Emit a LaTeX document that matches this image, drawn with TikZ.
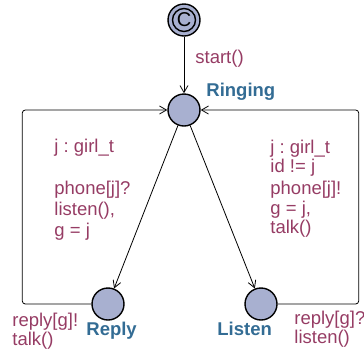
\documentclass[tikz,border=0pt]{standalone}
\usepackage{fontspec}
\setmainfont{Liberation Sans}
\usetikzlibrary{arrows.meta}
\frenchspacing

\definecolor{locfill}{RGB}{168,176,208}
\definecolor{labcol}{RGB}{150,60,100}
\definecolor{namecol}{RGB}{51,108,148}

\begin{document}
\begin{tikzpicture}[
        ->,
        >={Straight Barb[length=7pt,width=8pt]},
        line width=0.8pt,
        every node/.style={font=\fontsize{18.5}{19}\selectfont},
        loc/.style={circle, draw, line width=1.4pt, fill=locfill, minimum size=32pt, inner sep=0pt},
        initloc/.style={loc, path picture={\draw[line width=1.4pt] (path picture bounding box.center) circle (11.5pt);}},
        locname/.style={anchor=base west, inner sep=0pt, text=namecol, font=\fontsize{18.5}{19}\selectfont\bfseries},
        lab/.style={anchor=base west, text=labcol, inner sep=0pt, align=left},
        yscale=-1,
        x=1pt,
        y=1pt
    ]
    \useasboundingbox (0,0) rectangle (364,349);
    \node[initloc] (init) at (184,20) {\fontsize{20}{20}\selectfont C};
    \node[loc] (ringing) at (184,110) {};
    \node[loc] (reply) at (108,304) {};
    \node[loc] (listen) at (261,304) {};

    \node[locname] (nring) at (206,96) {Ringing};
    \node[locname] (nreply) at (86,335) {Reply};
    \node[locname] (nlisten) at (217,335) {Listen};

    \draw (init) -- node[lab, pos=0.47, xshift=11pt] {start()} (ringing);
    \draw (ringing) -- (reply);
    \draw (ringing) -- (listen);
    \draw[rounded corners=3pt] (reply.west) -- +(-69,0) |- (ringing.west);
    \draw[rounded corners=3pt] (listen.east) -- +(81,0) |- (ringing.east);

    % Ringing -> Reply
    \node[lab] (sel1) at (54,152) {j : girl\_t};
    \node[lab] (sync1) at (54,194) {phone[j]?};
    \node[lab] (upd1) at (54,236) {listen(),\\[2pt]g = j};
    % Ringing -> Listen
    \node[lab] (sel2) at (270,153) {j : girl\_t};
    \node[lab] (grd2) at (270,172) {id != j};
    \node[lab] (sync2) at (270,194) {phone[j]!};
    \node[lab] (upd2) at (270,233) {g = j,\\talk()};
    % loops
    \node[lab] (sync3) at (12,345) {reply[g]!\\talk()};
    \node[lab] (sync4) at (294,343) {reply[g]?\\listen()};
\end{tikzpicture}
\end{document}
